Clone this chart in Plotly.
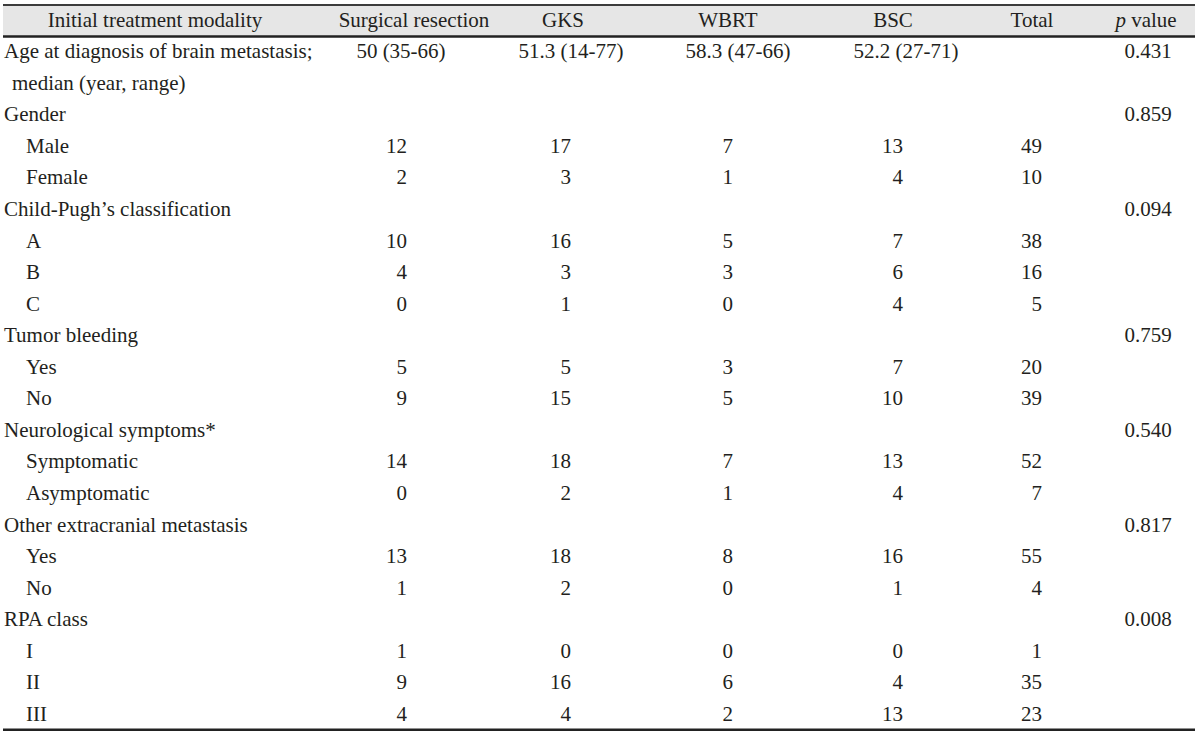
import plotly.graph_objects as go

# ---------------- data ----------------
row_labels = [
    "Age at diagnosis of brain metastasis;", "median (year, range)",
    "Gender", "Male", "Female",
    "Child-Pugh’s classification", "A", "B", "C",
    "Tumor bleeding", "Yes", "No",
    "Neurological symptoms*", "Symptomatic", "Asymptomatic",
    "Other extracranial metastasis", "Yes", "No",
    "RPA class", "I", "II", "III",
]
row_level = [0, 1, 0, 2, 2, 0, 2, 2, 2, 0, 2, 2, 0, 2, 2, 0, 2, 2, 0, 2, 2, 2]

col_headers = ["Initial treatment modality", "Surgical resection", "GKS", "WBRT",
               "BSC", "Total", "<i>p</i> value"]

median_age = ["50 (35-66)", "51.3 (14-77)", "58.3 (47-66)", "52.2 (27-71)"]

surgical = [None, None, None, 12, 2, None, 10, 4, 0, None, 5, 9, None, 14, 0, None, 13, 1, None, 1, 9, 4]
gks      = [None, None, None, 17, 3, None, 16, 3, 1, None, 5, 15, None, 18, 2, None, 18, 2, None, 0, 16, 4]
wbrt     = [None, None, None, 7, 1, None, 5, 3, 0, None, 3, 5, None, 7, 1, None, 8, 0, None, 0, 6, 2]
bsc      = [None, None, None, 13, 4, None, 7, 6, 4, None, 7, 10, None, 13, 4, None, 16, 1, None, 0, 4, 13]
total    = [None, None, None, 49, 10, None, 38, 16, 5, None, 20, 39, None, 52, 7, None, 55, 4, None, 1, 35, 23]
p_values = ["0.431", None, "0.859", None, None, "0.094", None, None, None, "0.759", None, None,
            "0.540", None, None, "0.817", None, None, "0.008", None, None, None]

# ---------------- style / layout constants ----------------
FONT = "Liberation Serif"
FSIZE = 21
COLOR = "#231f20"
W, H = 1200, 737
ROW0_PX, ROW_PX = 53.0, 31.55          # pixel centre of first data row, row pitch
HEADER_X = [155, 414, 563, 728, 893, 1032, 1146]
NUM_RIGHT = [407, 571, 733, 903, 1042]
MEDIAN_X = [401, 571, 738, 906]
P_X = 1148
LABEL_X = {0: 4, 1: 12, 2: 26}

fig = go.Figure()
font = dict(family=FONT, size=FSIZE, color=COLOR)

def text_trace(xs, ys, texts, pos):
    fig.add_trace(go.Scatter(x=xs, y=ys, text=texts, mode="text", textposition=pos,
                             textfont=font, hoverinfo="skip", showlegend=False))

# header
text_trace(HEADER_X, [-1] * len(col_headers), col_headers, "middle center")

# row labels
for lvl in (0, 1, 2):
    idx = [i for i, l in enumerate(row_level) if l == lvl]
    text_trace([LABEL_X[lvl]] * len(idx), idx, [row_labels[i] for i in idx], "middle right")

# median age row
text_trace(MEDIAN_X, [0] * len(median_age), median_age, "middle center")

# count columns (right aligned)
for col, xr in zip([surgical, gks, wbrt, bsc, total], NUM_RIGHT):
    idx = [i for i, v in enumerate(col) if v is not None]
    text_trace([xr] * len(idx), idx, [str(col[i]) for i in idx], "middle left")

# p values
idx = [i for i, v in enumerate(p_values) if v is not None]
text_trace([P_X] * len(idx), idx, [p_values[i] for i in idx], "middle center")

n_rows = len(row_labels)
y_top = -ROW0_PX / ROW_PX
y_bot = (H - ROW0_PX) / ROW_PX

shapes = [
    dict(type="rect", xref="x", yref="y", x0=3, x1=1195, y0=-1.52, y1=-0.52,
         fillcolor="#e6e6e6", line=dict(width=0), layer="below"),
    dict(type="line", xref="x", yref="y", x0=3, x1=1195, y0=-1.52, y1=-1.52,
         line=dict(color="#3c3c3c", width=2)),
    dict(type="line", xref="x", yref="y", x0=3, x1=1195, y0=-0.52, y1=-0.52,
         line=dict(color="#222222", width=2.5)),
    dict(type="line", xref="x", yref="y", x0=3, x1=1195, y0=n_rows - 0.55, y1=n_rows - 0.55,
         line=dict(color="#222222", width=2.5)),
]

fig.update_layout(
    width=W, height=H,
    margin=dict(l=0, r=0, t=0, b=0),
    paper_bgcolor="white", plot_bgcolor="white",
    xaxis=dict(range=[0, W], visible=False, fixedrange=True),
    yaxis=dict(range=[y_bot, y_top], visible=False, fixedrange=True),
    shapes=shapes,
    showlegend=False,
)

fig.write_html("out.html", config={"displayModeBar": False},
               post_script="document.body.style.margin='0';document.body.style.overflow='hidden';")
